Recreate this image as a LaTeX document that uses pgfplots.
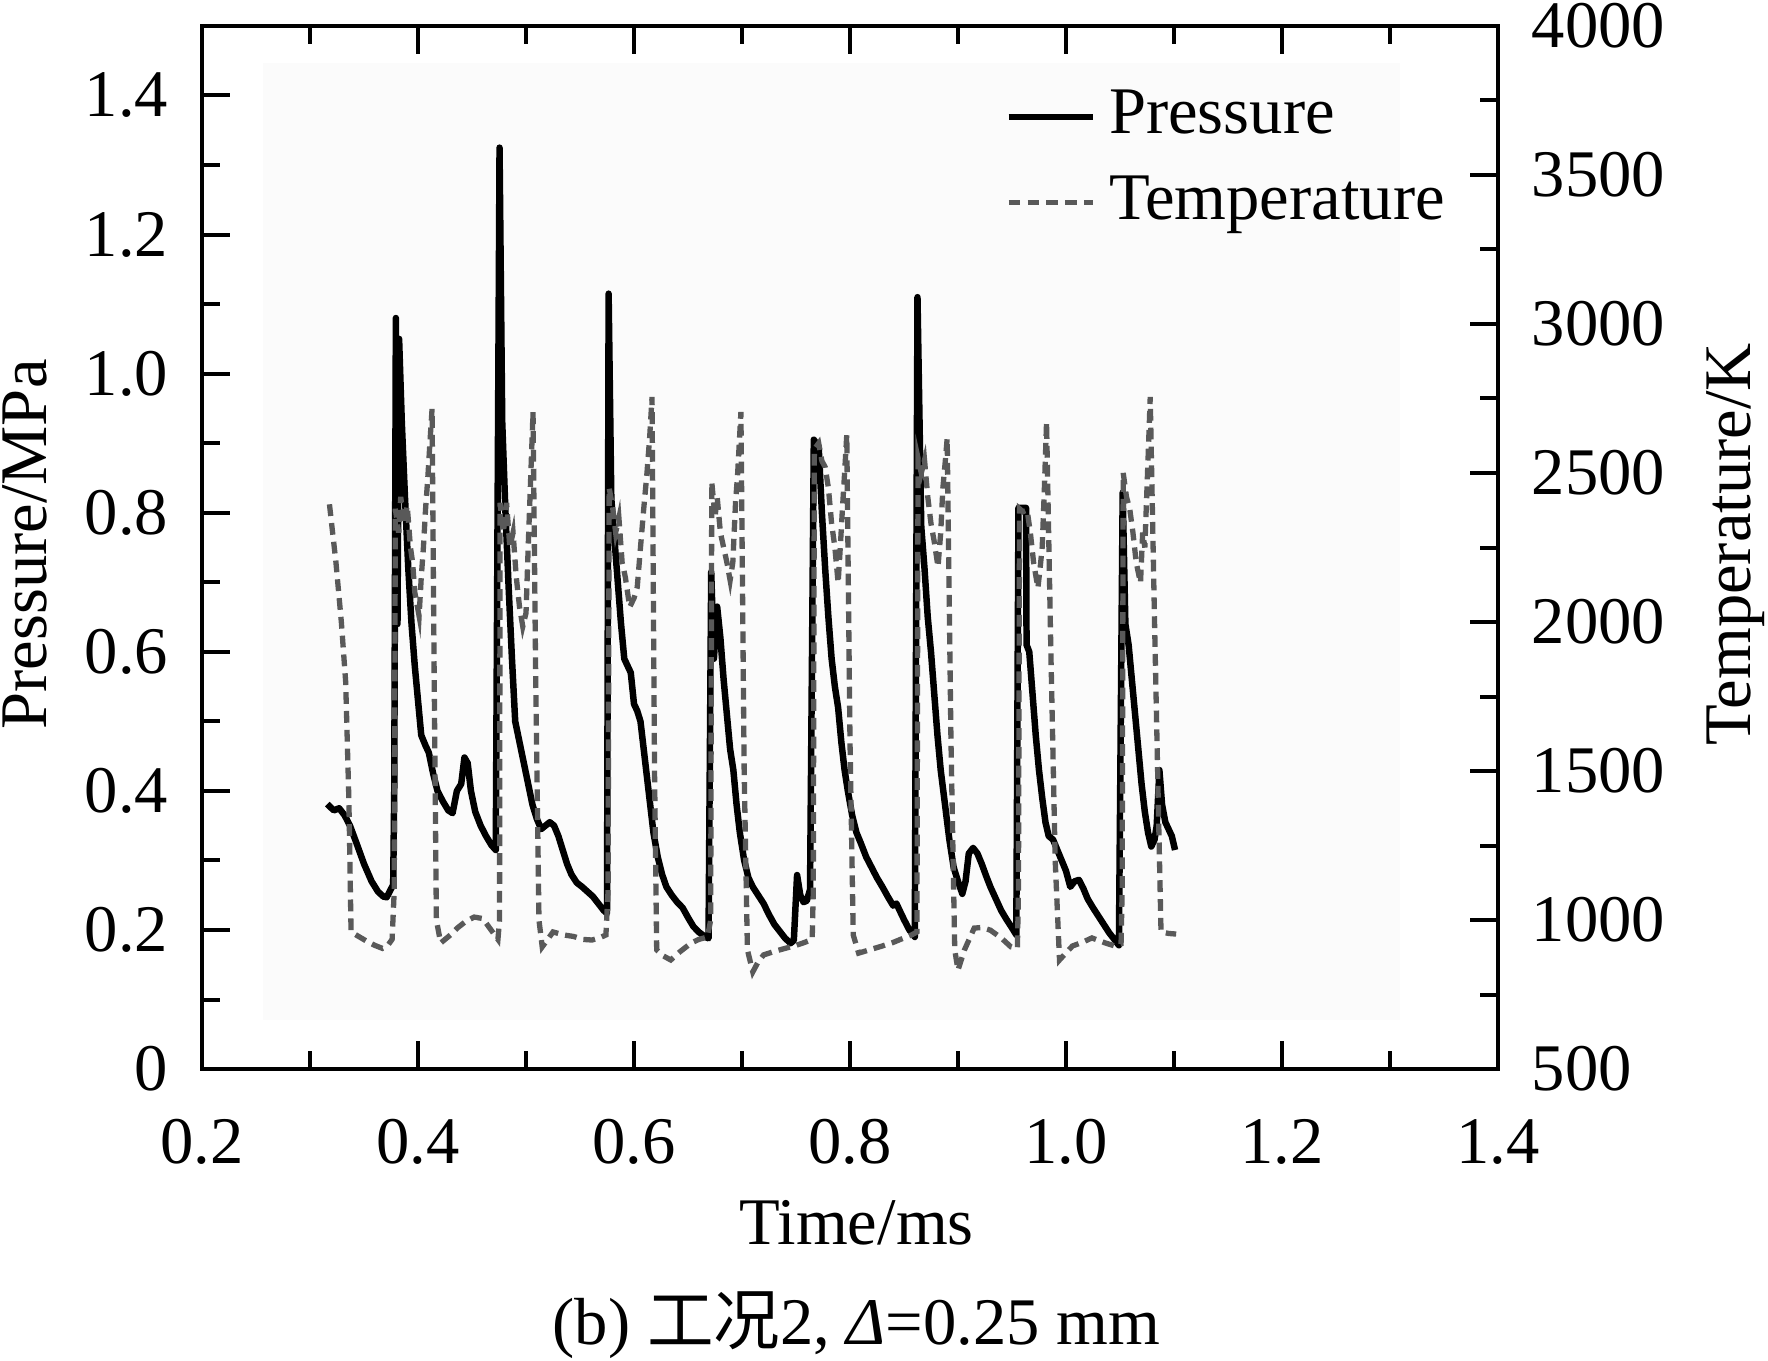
\documentclass[border=0pt]{standalone}
\usepackage{pgfplots}
\pgfplotsset{compat=1.18}
\usepackage{fontspec}
\setmainfont{Liberation Serif}
\newfontfamily\cjk{Noto Sans CJK SC}

\pgfplotstableread{
t p
0.316 0.381
0.322 0.372
0.327 0.375
0.332 0.365
0.337 0.350
0.343 0.325
0.350 0.295
0.357 0.270
0.363 0.255
0.368 0.248
0.371 0.247
0.374 0.256
0.377 0.265
0.378 0.40
0.3795 1.080
0.3810 0.640
0.3825 1.050
0.385 0.930
0.388 0.820
0.391 0.720
0.394 0.640
0.397 0.580
0.400 0.530
0.403 0.480
0.407 0.465
0.410 0.455
0.414 0.425
0.418 0.400
0.423 0.385
0.428 0.372
0.432 0.368
0.436 0.400
0.440 0.410
0.443 0.448
0.446 0.440
0.449 0.400
0.453 0.370
0.458 0.350
0.463 0.335
0.468 0.322
0.472 0.315
0.4755 1.325
0.478 0.930
0.481 0.800
0.484 0.690
0.487 0.590
0.490 0.500
0.494 0.470
0.498 0.440
0.502 0.410
0.506 0.380
0.510 0.360
0.514 0.345
0.518 0.350
0.522 0.355
0.526 0.350
0.530 0.335
0.534 0.315
0.538 0.295
0.542 0.280
0.547 0.268
0.552 0.262
0.557 0.255
0.562 0.248
0.567 0.238
0.572 0.228
0.575 0.224
0.5765 1.115
0.579 0.820
0.582 0.760
0.585 0.700
0.588 0.640
0.591 0.590
0.594 0.580
0.597 0.570
0.600 0.525
0.603 0.515
0.606 0.500
0.609 0.460
0.612 0.420
0.615 0.380
0.618 0.340
0.622 0.305
0.626 0.280
0.630 0.262
0.635 0.250
0.640 0.240
0.645 0.232
0.650 0.218
0.655 0.205
0.660 0.197
0.666 0.190
0.669 0.188
0.6715 0.715
0.674 0.590
0.677 0.665
0.680 0.620
0.683 0.560
0.686 0.510
0.689 0.460
0.692 0.430
0.695 0.380
0.698 0.340
0.702 0.300
0.706 0.275
0.710 0.262
0.715 0.250
0.720 0.238
0.725 0.222
0.730 0.208
0.735 0.198
0.740 0.188
0.745 0.181
0.748 0.185
0.751 0.279
0.754 0.250
0.757 0.240
0.760 0.242
0.763 0.258
0.7665 0.905
0.771 0.895
0.774 0.800
0.777 0.720
0.780 0.650
0.783 0.590
0.786 0.550
0.789 0.520
0.792 0.470
0.795 0.430
0.798 0.400
0.802 0.365
0.806 0.340
0.810 0.325
0.815 0.305
0.820 0.290
0.825 0.275
0.830 0.262
0.835 0.248
0.840 0.235
0.843 0.238
0.846 0.228
0.850 0.215
0.855 0.200
0.860 0.190
0.8625 1.110
0.866 0.780
0.869 0.720
0.872 0.650
0.875 0.600
0.878 0.540
0.881 0.480
0.884 0.430
0.888 0.380
0.892 0.330
0.896 0.290
0.900 0.270
0.904 0.252
0.907 0.270
0.910 0.310
0.914 0.318
0.918 0.310
0.922 0.295
0.926 0.278
0.930 0.262
0.935 0.245
0.940 0.228
0.945 0.215
0.950 0.203
0.954 0.193
0.956 0.807
0.963 0.807
0.9635 0.610
0.966 0.600
0.969 0.540
0.972 0.480
0.975 0.430
0.978 0.390
0.981 0.355
0.984 0.335
0.988 0.330
0.992 0.315
0.996 0.300
1.000 0.285
1.004 0.262
1.008 0.270
1.012 0.272
1.016 0.260
1.020 0.245
1.025 0.232
1.030 0.220
1.035 0.208
1.040 0.196
1.045 0.186
1.049 0.178
1.0525 0.829
1.055 0.640
1.058 0.610
1.061 0.560
1.064 0.510
1.067 0.460
1.070 0.410
1.073 0.370
1.076 0.340
1.079 0.320
1.082 0.330
1.084 0.350
1.0865 0.430
1.089 0.380
1.092 0.355
1.095 0.345
1.098 0.335
1.101 0.315
}\pressure

\pgfplotstableread{
t T
0.318 2395
0.324 2200
0.329 2000
0.333 1800
0.336 1400
0.338 960
0.345 945
0.352 930
0.360 915
0.367 905
0.372 915
0.376 935
0.378 1100
0.379 2380
0.382 2300
0.384 2420
0.387 2330
0.390 2390
0.393 2250
0.395 2200
0.397 2100
0.399 2060
0.401 2020
0.403 2150
0.405 2250
0.407 2380
0.409 2480
0.411 2600
0.413 2715
0.415 1800
0.417 1000
0.421 923
0.430 950
0.437 975
0.444 995
0.452 1010
0.460 1005
0.468 965
0.474 935
0.4755 1000
0.476 2400
0.479 2300
0.482 2400
0.485 2250
0.488 2300
0.491 2150
0.494 2050
0.497 1985
0.500 2030
0.502 2250
0.504 2450
0.5065 2705
0.509 1800
0.512 1000
0.515 910
0.520 935
0.525 960
0.535 950
0.544 945
0.553 935
0.561 933
0.568 940
0.574 950
0.576 1100
0.577 2450
0.580 2390
0.583 2300
0.586 2350
0.589 2200
0.592 2150
0.596 2050
0.600 2080
0.603 2117
0.606 2250
0.609 2380
0.612 2500
0.6145 2620
0.6167 2755
0.619 1500
0.621 900
0.627 880
0.634 866
0.643 895
0.653 923
0.660 935
0.668 943
0.671 1000
0.672 2470
0.675 2350
0.677 2420
0.680 2300
0.683 2250
0.686 2200
0.689 2140
0.6915 2200
0.694 2400
0.696 2500
0.699 2705
0.702 1500
0.705 900
0.710 826
0.715 860
0.720 883
0.730 895
0.741 906
0.750 915
0.758 925
0.765 935
0.766 1100
0.767 2580
0.771 2600
0.774 2540
0.777 2520
0.780 2450
0.783 2330
0.786 2250
0.789 2131
0.791 2250
0.793 2380
0.795 2500
0.797 2628
0.800 1600
0.803 950
0.808 889
0.818 900
0.830 913
0.840 925
0.850 940
0.857 950
0.862 960
0.863 2550
0.866 2500
0.869 2544
0.872 2420
0.875 2330
0.878 2270
0.8815 2185
0.884 2300
0.886 2450
0.888 2530
0.890 2617
0.8935 1600
0.897 900
0.900 832
0.906 900
0.915 973
0.922 975
0.930 966
0.940 940
0.949 910
0.955 905
0.956 1100
0.957 2380
0.960 2370
0.964 2376
0.967 2300
0.970 2200
0.974 2114
0.976 2180
0.978 2252
0.980 2450
0.982 2671
0.986 1900
0.990 1200
0.994 866
1.000 890
1.006 913
1.015 925
1.024 940
1.035 925
1.045 913
1.051 920
1.052 1100
1.053 2500
1.056 2420
1.059 2380
1.062 2300
1.065 2200
1.069 2131
1.071 2300
1.073 2250
1.075 2450
1.0765 2600
1.078 2755
1.082 2000
1.086 1300
1.088 960
1.095 955
1.102 953
}\temperature

\begin{document}
\fontsize{11.3}{13.6}\selectfont
\begin{tikzpicture}
\path[use as bounding box] (-34.28pt,-49.4pt) rectangle (265.72pt,181.4pt);
\pgfplotsset{
  common/.style={
    scale only axis, width=219.9pt, height=177.0pt,
    xmin=0.2, xmax=1.4,
    tick align=inside,
    major tick length=4.75pt, minor tick length=3.05pt,
    every tick/.style={line width=0.68pt, black},
    axis line style={line width=0.68pt},
    clip=false,
  }
}
\begin{axis}[common,
  ymin=0, ymax=1.5,
  xtick={0.2,0.4,0.6,0.8,1.0,1.2,1.4},
  xticklabels={0.2,0.4,0.6,0.8,1.0,1.2,1.4},
  minor x tick num=1,
  ytick={0,0.2,0.4,0.6,0.8,1.0,1.2,1.4},
  yticklabels={0,0.2,0.4,0.6,0.8,1.0,1.2,1.4},
  minor y tick num=1,
  ytick pos=left,
  xtick pos=both,
  xticklabel pos=lower,
  xticklabel style={yshift=-4.6pt},
  yticklabel style={xshift=-1.8pt},
  xlabel={Time/ms},
  xlabel style={at={(axis description cs:0.505,0)}, anchor=center, yshift=-26.1pt},
  ylabel={Pressure/MPa},
  ylabel style={at={(axis description cs:-0.1364,0.503)}, anchor=center},
]
\fill[black!1.5] (axis cs:0.2565,0.0705) rectangle (axis cs:1.309,1.447);
\addplot[black, line width=1.1pt, line join=round] table[x=t,y=p] {\pressure};
\node at (axis description cs:0.505,0) [yshift=-43.4pt] {(b) {\cjk 工况}2, \textit{Δ}=0.25 mm};
\end{axis}
\begin{axis}[common,
  ymin=500, ymax=4000,
  axis x line=none,
  axis y line*=right,
  ytick={500,1000,1500,2000,2500,3000,3500,4000},
  yticklabels={500,1000,1500,2000,2500,3000,3500,4000},
  minor y tick num=1,
  yticklabel style={xshift=1.8pt},
  ylabel={Temperature/K},
  ylabel style={at={(axis description cs:1.1837,0.503)}, anchor=center, rotate=0},
  legend style={at={(axis description cs:0.619,0.945)}, anchor=north west,
    draw=none, fill=none, inner sep=0pt, row sep=3.4pt,
    nodes={inner sep=1pt, anchor=west}},
  legend cell align=left,
  legend image code/.code={\draw[#1] (0pt,0pt) -- (14.3pt,0pt);},
]
\addlegendimage{black, line width=1.1pt}
\addlegendentry{\hspace{1.2pt}Pressure}
\addplot[black!65, line width=0.9pt, dash pattern=on 2pt off 1.2pt] table[x=t,y=T] {\temperature};
\addlegendentry{\hspace{1.2pt}Temperature}
\end{axis}
\end{tikzpicture}
\end{document}
